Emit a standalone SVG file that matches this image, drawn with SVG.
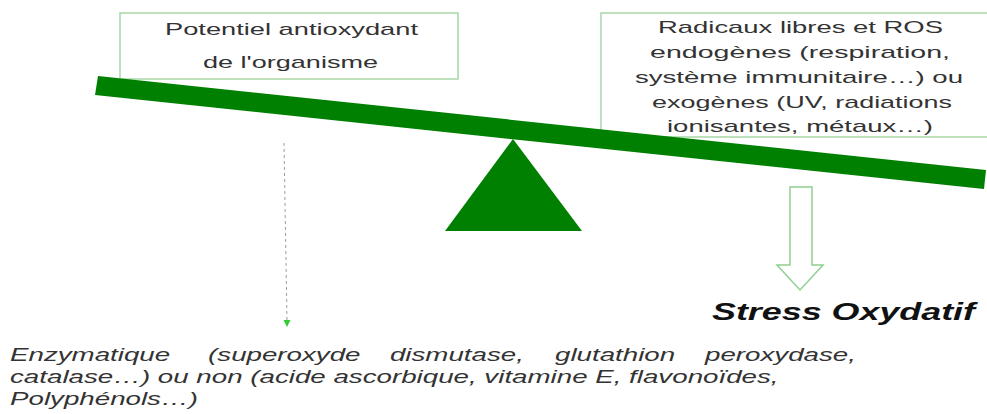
<svg xmlns="http://www.w3.org/2000/svg" width="987" height="414" viewBox="0 0 987 414">
<style>
.box{fill:#ffffff;stroke:#a6d8a6;stroke-width:1.5}
.bt{font-family:"Liberation Sans",Arial,sans-serif;font-size:17px;fill:#333333;text-anchor:start}
.green{fill:#008000}
.bottom{font-family:"Liberation Sans",Arial,sans-serif;font-size:18px;font-style:italic;fill:#333333}
.stress{font-family:"Liberation Sans",Arial,sans-serif;font-size:24px;font-style:italic;font-weight:bold;fill:#111111}
</style>
<rect width="987" height="414" fill="#ffffff"/>
<g id="node-antioxydant">
<rect class="box" x="120" y="13" width="338" height="66"/>
<text class="bt" font-size="18" x="165" y="35" textLength="253" lengthAdjust="spacingAndGlyphs">Potentiel antioxydant</text>
<text class="bt" font-size="18" x="203" y="68" textLength="175" lengthAdjust="spacingAndGlyphs">de l'organisme</text>
</g>
<g id="node-radicaux">
<rect class="box" x="601" y="13" width="395" height="124"/>
<text class="bt" x="658" y="33" textLength="285" lengthAdjust="spacingAndGlyphs">Radicaux libres et ROS</text>
<text class="bt" x="650" y="58" textLength="300" lengthAdjust="spacingAndGlyphs">endogènes (respiration,</text>
<text class="bt" x="635" y="83" textLength="328" lengthAdjust="spacingAndGlyphs">système immunitaire…) ou</text>
<text class="bt" x="652" y="108" textLength="300" lengthAdjust="spacingAndGlyphs">exogènes (UV, radiations</text>
<text class="bt" x="667" y="132" textLength="266" lengthAdjust="spacingAndGlyphs">ionisantes, métaux…)</text>
</g>
<g id="node-beam">
<polygon class="green" points="98,76 986,170 984,189 95,95"/>
</g>
<g id="node-fulcrum">
<polygon class="green" points="513,139 445,231 582,231"/>
</g>
<g id="connectors">
<line x1="284" y1="143" x2="287" y2="321" stroke="#8fa88f" stroke-width="1" stroke-dasharray="3,3"/>
<polygon points="283.5,320 290.5,320 287,327" fill="#33cc33"/>
<polygon points="790,187 812,187 812,265 823,265 800,290 777,265 790,265" fill="#ffffff" stroke="#90d090" stroke-width="1.5"/>
</g>
<g id="node-stress">
<text class="stress" x="712" y="320" textLength="263" lengthAdjust="spacingAndGlyphs">Stress Oxydatif</text>
</g>
<g id="node-antioxydants-list">
<g transform="scale(1.54,1)">
<text class="bottom" y="361"><tspan x="6.5">Enzymatique</tspan><tspan x="135.1">(superoxyde</tspan><tspan x="253.2">dismutase,</tspan><tspan x="360.4">glutathion</tspan><tspan x="457.8">peroxydase,</tspan></text>
<text class="bottom" x="6.5" y="383">catalase…) ou non (acide ascorbique, vitamine E, flavonoïdes,</text>
<text class="bottom" x="6.5" y="405">Polyphénols…)</text>
</g>
</g>
</svg>
